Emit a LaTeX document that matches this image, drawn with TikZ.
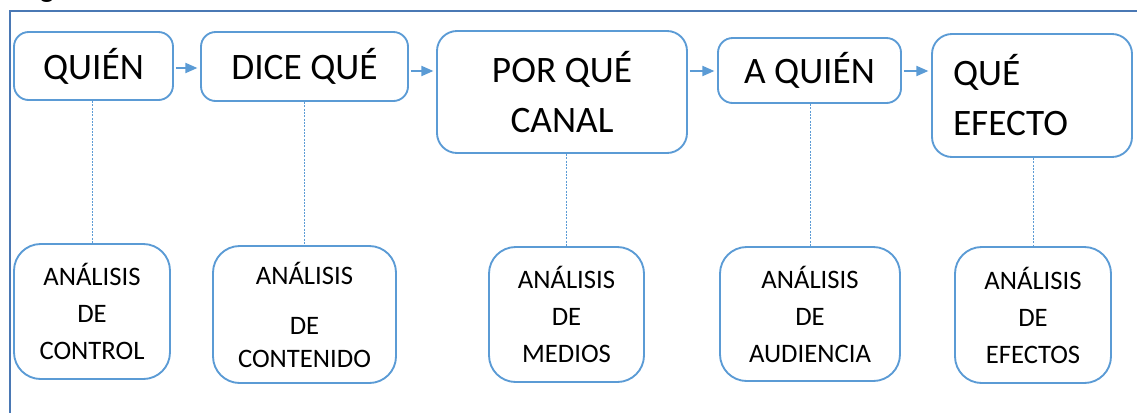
\documentclass[tikz,border=0pt]{standalone}
\usepackage{fontspec}
\setmainfont{Carlito}
\usepackage{tikz}
\usetikzlibrary{arrows.meta,positioning,calc}
\definecolor{azulcaja}{HTML}{5B9BD5}
\definecolor{azulmarco}{HTML}{4A78B4}

\begin{document}
\begin{tikzpicture}[x=0.75pt,y=-0.75pt,
  caja/.style={draw=azulcaja,line width=1.4pt,rounded corners=11pt,inner sep=0pt,align=center,font=\fontsize{28}{37.5}\selectfont},
  analisis/.style={draw=azulcaja,line width=1.4pt,rounded corners=20pt,inner sep=0pt,align=center,font=\fontsize{20}{27.75}\selectfont},
  tam/.style 2 args={minimum width=#1*0.75pt,minimum height=#2*0.75pt},
  flecha/.style={azulcaja,line width=1.4pt,-{Triangle[length=9pt,width=7.5pt]},shorten <=1.5pt,shorten >=2pt},
  enlace/.style={azulcaja,line width=0.75pt,dash pattern=on 1.5pt off 1pt},
  marco/.style={azulmarco,line width=1.5pt}]
%Rahmen in Pixeln (1137x412)
\useasboundingbox (0,0) rectangle (1137,412);
\draw[marco] (10,413) -- (10,11) -- (1138,11);
\node[anchor=base,inner sep=0pt,font=\bfseries\fontsize{22}{26}\selectfont] (titulo) at (47,-2.5) {g};
%obere Reihe
\node[caja,tam={159}{68}] (quien) at (93.5,66) {QUIÉN};
\node[caja,tam={207}{69}] (dice) at (304.5,66.5) {DICE QUÉ};
\node[caja,tam={250}{122},rounded corners=15pt] (canal) at (562,92) {POR QUÉ\\CANAL};
\node[caja,tam={183}{65}] (aquien) at (809.5,70.5) {A QUIÉN};
\node[caja,tam={200}{123},rounded corners=15pt,align=left,text width=158*0.75pt,inner xsep=21*0.75pt] (efecto) at (1032,95.5) {QUÉ\\EFECTO};
%untere Reihe
\node[analisis,tam={156}{135}] (control) at (92,311.5) {ANÁLISIS\\DE\\CONTROL};
\node[analisis,tam={183}{137}] (contenido) at (304.5,314.5) {ANÁLISIS\\[9.75pt]DE\\[-3pt]CONTENIDO};
\node[analisis,tam={155}{135}] (medios) at (566.5,314.5) {ANÁLISIS\\DE\\MEDIOS};
\node[analisis,tam={180}{134}] (audiencia) at (810,314) {ANÁLISIS\\DE\\AUDIENCIA};
\node[analisis,tam={156}{136}] (efectos) at (1033,315) {ANÁLISIS\\DE\\EFECTOS};
%Pfeile
\coordinate (nivelA) at (0,68);
\coordinate (nivelB) at (0,71);
\draw[flecha] (quien.east |- nivelA) -- (dice.west |- nivelA);
\foreach \von/\nach in {dice/canal,canal/aquien,aquien/efecto}
  \draw[flecha] (\von.east |- nivelB) -- (\nach.west |- nivelB);
%gestrichelte Linien
\foreach \arriba/\abajo in {quien/control,dice/contenido,canal/medios,aquien/audiencia,efecto/efectos}
  \draw[enlace] (\abajo.north |- \arriba.south) -- (\abajo.north);
\end{tikzpicture}
\end{document}
